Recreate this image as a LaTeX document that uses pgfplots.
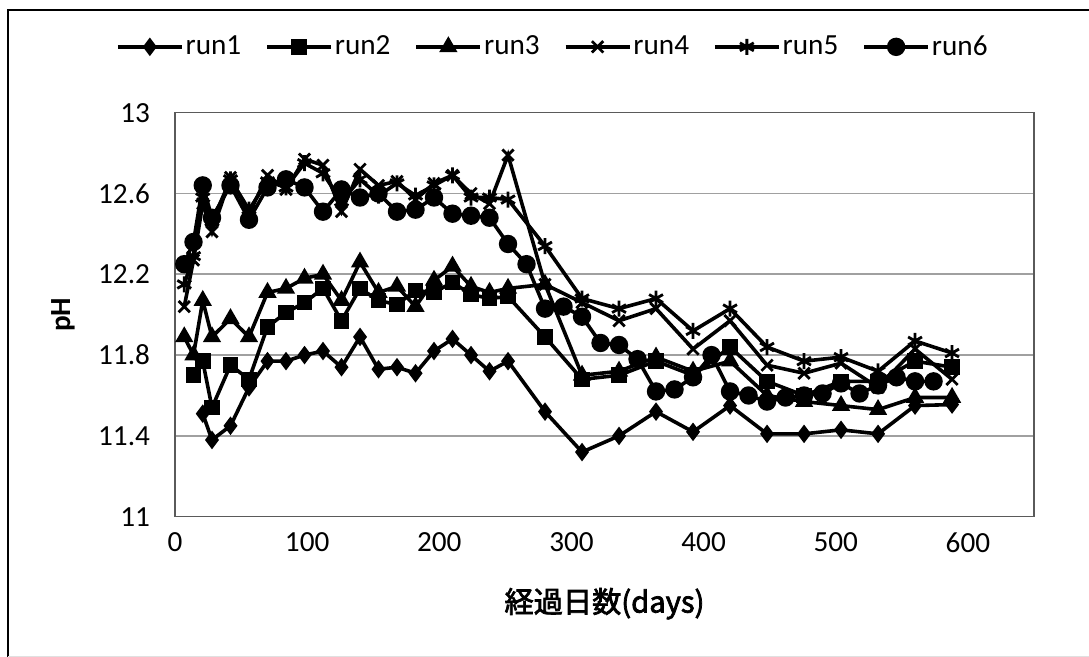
\documentclass[border=0pt]{standalone}
\usepackage{pgfplots}
\pgfplotsset{compat=1.18}
\usepackage{fontspec}
\setmainfont{Carlito}
\newfontfamily\jp[AutoFakeBold=2.5]{Noto Sans CJK JP}
\definecolor{gridgray}{RGB}{160,160,160}
\definecolor{boxgray}{RGB}{90,90,90}
\tikzset{ser/.style={black, line width=1.8pt, mark options={solid, line width=0.8pt, fill=black}}}
\begin{document}
\begin{tikzpicture}[x=1pt,y=1pt]
\useasboundingbox (0,0) rectangle (544.5,328.5);
\draw[line width=1pt,black] (4,0) -- (4,323.5) -- (544.5,323.5);
\draw[line width=0.5pt,black!12] (4,0.3) -- (544.5,0.3);
\begin{axis}[
  at={(87.5pt,70.15pt)}, anchor=south west,
  scale only axis, width=429.5pt, height=202pt,
  xmin=0, xmax=650, ymin=11, ymax=13,
  xtick={0,100,200,300,400,500,600},
  ytick={11,11.4,11.8,12.2,12.6,13},
  /pgf/number format/fixed, /pgf/number format/precision=1,
  /pgf/number format/assume math mode=true,
  tick label style={font=\fontsize{14.6}{16}\selectfont},
  xticklabel style={yshift=-4.5pt},
  yticklabel style={xshift=-9pt},
  major tick length=0pt,
  ymajorgrids, grid style={gridgray, line width=0.8pt},
  axis line style={boxgray, line width=0.8pt},
  every axis x label/.style={at={(axis description cs:0.5,0)}, anchor=center, yshift=-43.5pt},
  every axis y label/.style={at={(axis description cs:-0.130,0.5)}, anchor=center, rotate=90},
  xlabel={\jp\bfseries\fontsize{14.6}{16}\selectfont 経過日数(days)},
  ylabel={\bfseries\fontsize{14.6}{16}\selectfont pH},
  legend columns=6,
  legend style={at={(axis description cs:0.441,1.163)}, anchor=center, draw=none, fill=none,
    font=\fontsize{14.6}{16}\selectfont,
    /tikz/every odd column/.append style={column sep=-1pt},
    /tikz/every even column/.append style={column sep=10pt}},
  legend image code/.code={\draw[mark repeat=2,mark phase=2] plot coordinates {(0pt,0pt) (16pt,0pt) (32pt,0pt)};},
]
\addplot[ser, mark=diamond*, mark size=4pt] coordinates {
(21,11.51)(28,11.38)(42,11.45)(56,11.64)(70,11.77)(84,11.77)(98,11.80)(112,11.82)(126,11.74)(140,11.89)
(154,11.73)(168,11.74)(182,11.71)(196,11.82)(210,11.88)(224,11.80)(238,11.72)(252,11.77)(280,11.52)(308,11.32)
(336,11.40)(364,11.52)(392,11.42)(420,11.55)(448,11.41)(476,11.41)(504,11.43)(532,11.41)(560,11.55)(588,11.555)};
\addlegendentry{run1}
\addplot[ser, mark=square*, mark size=3.5pt] coordinates {
(14,11.70)(21,11.77)(28,11.54)(42,11.75)(56,11.68)(70,11.94)(84,12.01)(98,12.06)(112,12.13)(126,11.97)
(140,12.13)(154,12.07)(168,12.05)(182,12.12)(196,12.11)(210,12.16)(224,12.10)(238,12.08)(252,12.09)(280,11.89)
(308,11.68)(336,11.70)(364,11.77)(392,11.70)(420,11.84)(448,11.67)(476,11.60)(504,11.67)(532,11.67)(560,11.77)(588,11.74)};
\addlegendentry{run2}
\addplot[ser, mark=triangle*, mark size=4.5pt] coordinates {
(7,11.89)(14,11.80)(21,12.07)(28,11.89)(42,11.98)(56,11.89)(70,12.11)(84,12.13)(98,12.18)(112,12.20)
(126,12.07)(140,12.26)(154,12.11)(168,12.14)(182,12.04)(196,12.17)(210,12.24)(224,12.14)(238,12.11)(252,12.13)
(280,12.15)(308,11.70)(336,11.72)(364,11.79)(392,11.72)(420,11.77)(448,11.60)(476,11.57)(504,11.55)(532,11.53)(560,11.59)(588,11.59)};
\addlegendentry{run3}
\addplot[ser, mark=x, mark size=4pt, mark options={line width=1.4pt}] coordinates {
(7,12.04)(14,12.27)(21,12.55)(28,12.41)(42,12.68)(56,12.50)(70,12.69)(84,12.62)(98,12.77)(112,12.74)
(126,12.51)(140,12.72)(154,12.64)(168,12.66)(182,12.57)(196,12.65)(210,12.69)(224,12.60)(238,12.55)(252,12.79)
(280,12.15)(308,12.06)(336,11.97)(364,12.03)(392,11.83)(420,11.97)(448,11.75)(476,11.71)(504,11.76)(532,11.64)(560,11.83)(588,11.68)};
\addlegendentry{run4}
\addplot[ser, mark=asterisk, mark size=4pt, mark options={line width=1.4pt}] coordinates {
(7,12.15)(14,12.29)(21,12.58)(28,12.46)(42,12.67)(56,12.52)(70,12.66)(84,12.63)(98,12.75)(112,12.70)
(126,12.56)(140,12.67)(154,12.59)(168,12.65)(182,12.59)(196,12.64)(210,12.69)(224,12.58)(238,12.58)(252,12.57)
(280,12.34)(308,12.08)(336,12.03)(364,12.08)(392,11.92)(420,12.03)(448,11.84)(476,11.77)(504,11.79)(532,11.72)(560,11.87)(588,11.81)};
\addlegendentry{run5}
\addplot[ser, mark=*, mark size=4.2pt] coordinates {
(7,12.25)(14,12.36)(21,12.64)(28,12.48)(42,12.64)(56,12.47)(70,12.63)(84,12.67)(98,12.63)(112,12.51)
(126,12.62)(140,12.58)(154,12.60)(168,12.51)(182,12.52)(196,12.58)(210,12.50)(224,12.49)(238,12.48)(252,12.35)
(266,12.25)(280,12.03)(294,12.04)(308,11.99)(322,11.86)(336,11.85)(350,11.78)(364,11.62)(378,11.63)(392,11.69)
(406,11.80)(420,11.62)(434,11.60)(448,11.57)(462,11.59)(476,11.60)(490,11.61)(504,11.66)(518,11.61)(532,11.65)
(546,11.69)(560,11.67)(574,11.67)};
\addlegendentry{run6}
\end{axis}
\end{tikzpicture}
\end{document}
